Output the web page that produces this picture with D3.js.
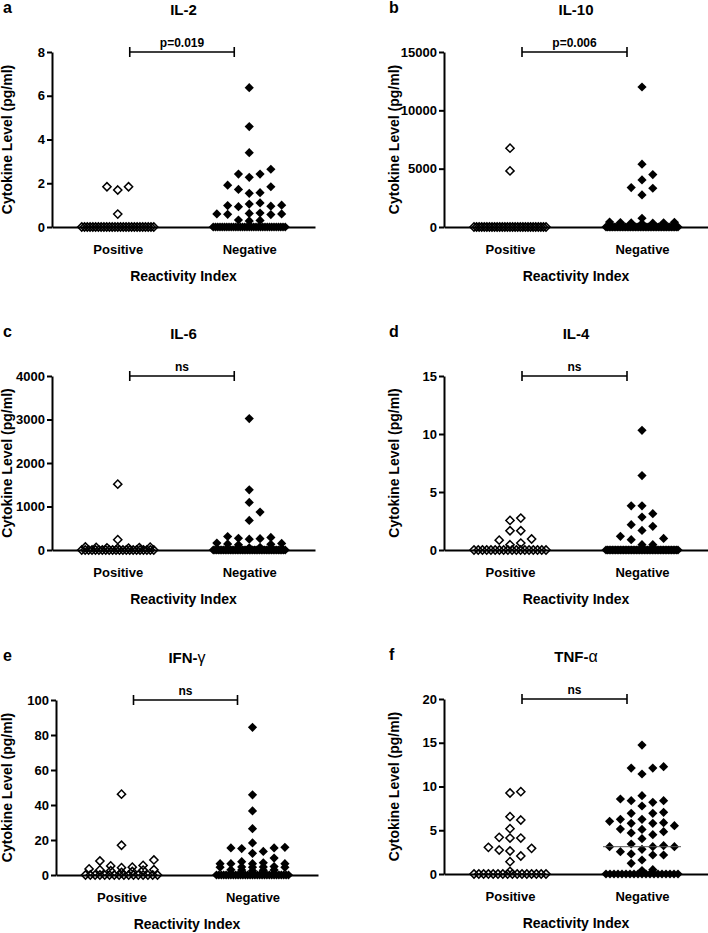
<!DOCTYPE html>
<html><head><meta charset="utf-8">
<script src="https://cdn.jsdelivr.net/npm/d3@7"></script>
<style>
html,body{margin:0;padding:0;background:#fff;}
svg{display:block;}
text{font-family:"Liberation Sans",Arial,Helvetica,sans-serif;font-weight:bold;fill:#000;}
</style></head><body>
<svg id="chart" width="708" height="933"></svg>
<script>
// ---------- data ----------
const groups = ["Positive", "Negative"];
const letters = ["a", "b", "c", "d", "e", "f"];
const titleMain = ["IL-2", "IL-10", "IL-6", "IL-4", "IFN-", "TNF-"];
const titleGreek = ["", "", "", "", "γ", "α"];
const pLabels = ["p=0.019", "p=0.006", "ns", "ns", "ns", "ns"];
const yMax = [8, 15000, 4000, 15, 100, 20];
const ticksIL2 = [0, 2, 4, 6, 8];
const ticksIL10 = [0, 5000, 10000, 15000];
const ticksIL6 = [0, 1000, 2000, 3000, 4000];
const ticksIL4 = [0, 5, 10, 15];
const ticksIFN = [0, 20, 40, 60, 80, 100];
const ticksTNF = [0, 5, 10, 15, 20];
const yAxisTitle = "Cytokine Level (pg/ml)";
const xAxisTitle = "Reactivity Index";

const il2Pos = [1.84, 1.69, 1.84, 0.59, 0, 0, 0, 0, 0, 0, 0, 0, 0, 0, 0, 0, 0, 0, 0, 0, 0, 0, 0, 0, 0, 0, 0, 0, 0, 0, 0];
const il2Neg = [6.37, 4.59, 3.40, 2.64, 2.42, 2.42, 2.27, 1.91, 1.84, 1.72, 1.57, 1.54, 1.10, 1.05, 1.00, 0.98, 0.95, 0.93,
  0.64, 0.62, 0.60, 0.60, 0.58, 0.57, 0.32, 0.30, 0.28,
  0, 0, 0, 0, 0, 0, 0, 0, 0, 0, 0, 0, 0, 0, 0, 0, 0, 0, 0, 0, 0, 0, 0, 0, 0, 0, 0, 0, 0, 0, 0, 0, 0];
const il10Pos = [6756, 4810, 0, 0, 0, 0, 0, 0, 0, 0, 0, 0, 0, 0, 0, 0, 0, 0, 0, 0, 0, 0, 0, 0, 0, 0, 0, 0, 0, 0, 0];
const il10Neg = [12000, 5382, 4495, 4037, 3378, 3321, 2748, 750, 420, 400, 380, 360, 350, 330, 300,
  0, 0, 0, 0, 0, 0, 0, 0, 0, 0, 0, 0, 0, 0, 0, 0, 0, 0, 0, 0, 0, 0, 0, 0, 0, 0, 0, 0, 0, 0, 0, 0, 0, 0, 0, 0, 0, 0, 0, 0, 0, 0, 0, 0, 0];
const il6Pos = [1514, 237, 70, 65, 60, 55, 50, 45, 40, 0, 0, 0, 0, 0, 0, 0, 0, 0, 0, 0, 0, 0, 0, 0, 0, 0, 0, 0, 0, 0, 0];
const il6Neg = [3021, 1384, 1094, 872, 681, 310, 290, 270, 260, 250, 160, 150, 140, 130, 120, 60, 50,
  0, 0, 0, 0, 0, 0, 0, 0, 0, 0, 0, 0, 0, 0, 0, 0, 0, 0, 0, 0, 0, 0, 0, 0, 0, 0, 0, 0, 0, 0, 0, 0, 0, 0, 0, 0, 0, 0, 0, 0, 0, 0, 0];
const il4Pos = [2.75, 2.55, 1.66, 1.66, 0.95, 0.85, 0.60, 0.45, 0, 0, 0, 0, 0, 0, 0, 0, 0, 0, 0, 0, 0, 0, 0, 0, 0, 0];
const il4Neg = [10.32, 6.42, 3.81, 3.81, 3.13, 2.84, 2.18, 2.04, 1.69, 1.18, 1.00, 0.89, 0.46, 0.46,
  0, 0, 0, 0, 0, 0, 0, 0, 0, 0, 0, 0, 0, 0, 0, 0, 0, 0, 0, 0, 0, 0, 0, 0, 0, 0, 0, 0, 0, 0, 0, 0, 0, 0, 0, 0, 0, 0, 0, 0, 0, 0, 0, 0, 0, 0];
const ifnPos = [46.2, 17.0, 8.6, 8.0, 5.5, 5.2, 4.5, 4.2, 3.5, 3.0, 2.9, 2.8, 2.5, 2.0, 1.5,
  0, 0, 0, 0, 0, 0, 0, 0, 0, 0, 0, 0, 0, 0, 0, 0];
const ifnNeg = [84.4, 45.8, 36.6, 26.5, 18.3, 15.8, 15.5, 15.5, 15.1, 13.5, 12.4, 9.7, 7.6, 7.0, 6.5, 6.5, 6.5, 6.5,
  4.8, 4.6, 4.6, 4.5, 4.5, 4.4, 3.0, 2.9, 2.8, 2.7, 2.5,
  0, 0, 0, 0, 0, 0, 0, 0, 0, 0, 0, 0, 0, 0, 0, 0, 0, 0, 0, 0, 0, 0, 0, 0, 0, 0, 0, 0, 0, 0, 0];
const tnfPos = [9.41, 9.26, 6.55, 6.17, 5.18, 4.19, 4.11, 4.11, 3.05, 2.93, 2.74, 2.63, 2.06, 1.41, 0.30,
  0, 0, 0, 0, 0, 0, 0, 0, 0, 0, 0, 0, 0, 0, 0, 0];
const tnfNeg = [14.74, 12.27, 12.11, 12.11, 11.43, 8.95, 8.57, 8.38, 8.38, 8.19, 7.77, 7.05, 6.93, 6.93,
  6.25, 6.25, 6.02, 5.87, 5.79, 5.79, 5.52, 5.14, 5.10, 4.84, 4.69, 4.50, 4.04, 3.43, 3.24, 3.12, 3.12, 3.12,
  2.82, 2.55, 2.29, 2.17, 2.17, 1.60, 1.22, 0.50, 0.40,
  0, 0, 0, 0, 0, 0, 0, 0, 0, 0, 0, 0, 0, 0, 0, 0, 0, 0, 0];

const panelTicks = [ticksIL2, ticksIL10, ticksIL6, ticksIL4, ticksIFN, ticksTNF];
const panelPos = [il2Pos, il10Pos, il6Pos, il4Pos, ifnPos, tnfPos];
const panelNeg = [il2Neg, il10Neg, il6Neg, il4Neg, ifnNeg, tnfNeg];

// ---------- layout ----------
const layout = [
  {x0: 52, x1: 315, top: 52, bottom: 227, yTitleX: 12, letterX: 3},
  {x0: 444, x1: 708, top: 52, bottom: 227, yTitleX: 399, letterX: 389},
  {x0: 52, x1: 315, top: 376, bottom: 550, yTitleX: 12, letterX: 3},
  {x0: 444, x1: 708, top: 376, bottom: 550, yTitleX: 399, letterX: 389},
  {x0: 56, x1: 318, top: 700, bottom: 875, yTitleX: 12, letterX: 3},
  {x0: 444, x1: 708, top: 699, bottom: 874, yTitleX: 399, letterX: 389}
];

const svg = d3.select("#chart");

const diamond = {
  draw(ctx, size) {
    const r = Math.sqrt(size / 2);
    ctx.moveTo(0, -r); ctx.lineTo(r, 0); ctx.lineTo(0, r); ctx.lineTo(-r, 0); ctx.closePath();
  }
};
const openSym = d3.symbol().type(diamond).size(2 * 4.1 * 4.1)();
const fillSym = d3.symbol().type(diamond).size(2 * 4.6 * 4.6)();

function swarm(values, y, cx) {
  const s = 10.8, thr = 9, spread = 36;
  const order = [0, 1, -1, 2, -2, 3, -3];
  const y0 = y(0);
  const pts = values.map(v => ({v, py: y(v)}));
  const base = pts.filter(p => Math.abs(p.py - y0) < 1.5);
  const rest = pts.filter(p => Math.abs(p.py - y0) >= 1.5).sort((a, b) => a.v - b.v);
  const nb = base.length;
  if (nb > order.length) {
    base.forEach((p, i) => p.px = cx - spread + (2 * spread) * i / (nb - 1));
  } else {
    base.forEach((p, i) => p.px = cx + order[i] * s);
    base.sort((a, b) => a.px - b.px);
  }
  const placed = [];
  rest.forEach(p => {
    let best = 0, bestD = -1;
    for (const c of order) {
      const d = d3.min(placed.filter(q => q.col === c), q => Math.abs(q.py - p.py));
      const dd = d === undefined ? Infinity : d;
      if (dd >= thr) { best = c; bestD = dd; break; }
      if (dd > bestD) { bestD = dd; best = c; }
    }
    p.col = best; p.px = cx + best * s; placed.push(p);
  });
  return base.concat(rest);
}

layout.forEach((L, i) => {
  const g = svg.append("g");
  const y = d3.scaleLinear().domain([0, yMax[i]]).range([L.bottom, L.top]);
  const x = d3.scalePoint().domain(groups).range([L.x0, L.x1]).padding(0.5);

  // y axis
  const ya = g.append("g").attr("transform", `translate(${L.x0},0)`)
    .call(d3.axisLeft(y).tickValues(panelTicks[i]).tickFormat(d3.format("d"))
      .tickSizeInner(5).tickSizeOuter(0).tickPadding(2));
  ya.select(".domain").attr("stroke", "#000").attr("stroke-width", 2);
  ya.selectAll(".tick line").attr("stroke", "#000").attr("stroke-width", 2);
  ya.selectAll(".tick text").attr("font-size", 13).attr("font-family", null).attr("fill", "#000");

  // x axis
  const xa = g.append("g").attr("transform", `translate(0,${L.bottom})`)
    .call(d3.axisBottom(x).tickSizeInner(0).tickSizeOuter(0).tickPadding(18));
  xa.select(".domain").attr("stroke", "#000").attr("stroke-width", 2);
  xa.selectAll(".tick text").attr("font-size", 13).attr("font-family", null).attr("fill", "#000");

  // points
  const sets = [panelPos[i], panelNeg[i]];
  sets.forEach((vals, gi) => {
    const cx = x(groups[gi]);
    const pts = swarm(vals, y, cx);
    g.append("g").selectAll("path").data(pts).join("path")
      .attr("d", gi === 0 ? openSym : fillSym)
      .attr("transform", d => `translate(${d.px},${d.py})`)
      .attr("fill", gi === 0 ? "none" : "#000")
      .attr("stroke", "#000")
      .attr("stroke-width", gi === 0 ? 1.5 : 0);
    const med = d3.median(vals);
    if (med > 0) {
      g.append("line").attr("x1", cx - 39).attr("x2", cx + 39)
        .attr("y1", y(med)).attr("y2", y(med))
        .attr("stroke", "#555").attr("stroke-width", 1);
    }
  });

  // significance bracket
  const bx1 = x(groups[0]) + 12, bx2 = x(groups[1]) - 15, by = y(yMax[i]);
  g.append("path")
    .attr("d", `M${bx1},${by - 5}V${by + 5}M${bx1},${by}H${bx2}M${bx2},${by - 5}V${by + 5}`)
    .attr("fill", "none").attr("stroke", "#000").attr("stroke-width", 1.6);
  g.append("text").attr("x", (bx1 + bx2) / 2).attr("y", by - 5)
    .attr("text-anchor", "middle").attr("font-size", 12).text(pLabels[i]);

  // titles
  const cxPlot = (L.x0 + L.x1) / 2;
  const t = g.append("text").attr("x", cxPlot).attr("y", L.top - 37)
    .attr("text-anchor", "middle").attr("font-size", 15);
  t.append("tspan").text(titleMain[i]);
  if (titleGreek[i]) t.append("tspan").attr("font-weight", "normal").attr("font-size", 16).text(titleGreek[i]);

  g.append("text").attr("x", L.letterX).attr("y", L.top - 39).attr("font-size", 16).text(letters[i]);

  g.append("text").attr("transform", `translate(${L.yTitleX},${(L.top + L.bottom) / 2}) rotate(-90)`)
    .attr("text-anchor", "middle").attr("font-size", 14).text(yAxisTitle);

  g.append("text").attr("x", cxPlot).attr("y", L.bottom + 54)
    .attr("text-anchor", "middle").attr("font-size", 14).text(xAxisTitle);
});
</script>
</body></html>
